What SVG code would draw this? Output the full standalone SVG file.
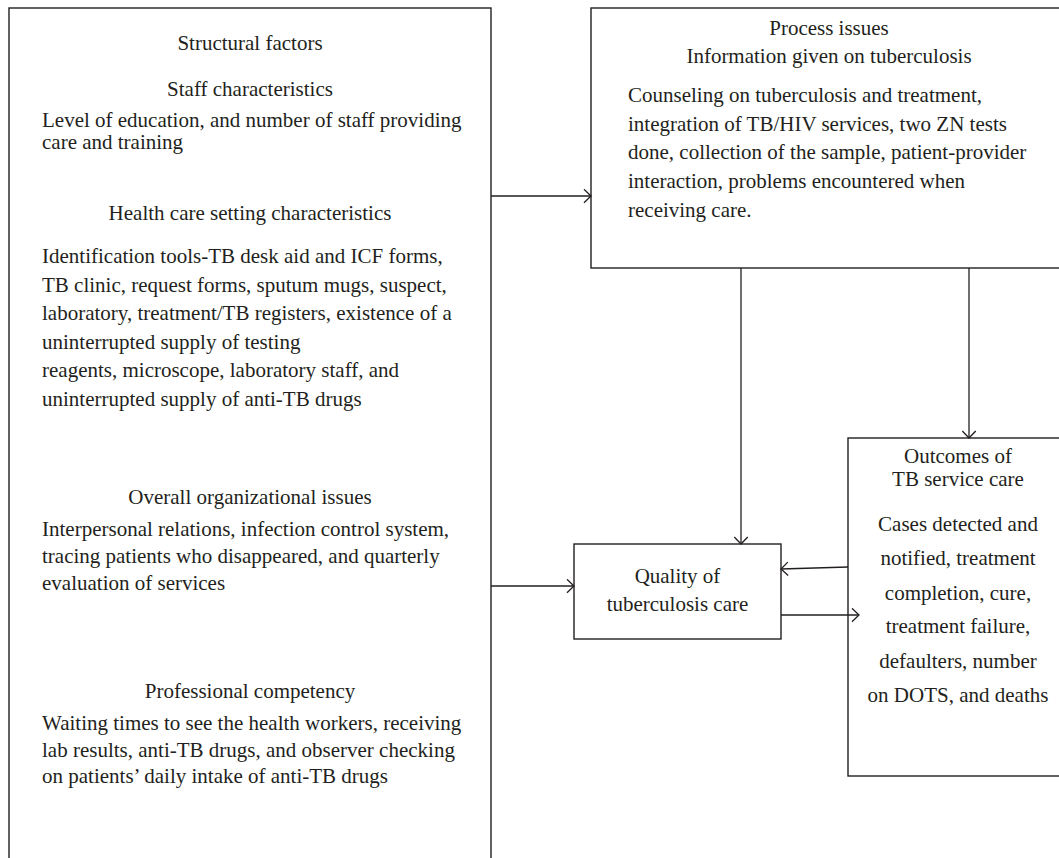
<svg xmlns="http://www.w3.org/2000/svg" width="1059" height="858" viewBox="0 0 1059 858">
<style>
  .box { fill: #ffffff; stroke: #231f20; stroke-width: 1.4; }
  .t { font-family: "Liberation Serif", "Times New Roman", serif; font-size: 21px; fill: #231f20; }
  .c { text-anchor: middle; }
  .conn { fill: none; stroke: #231f20; stroke-width: 1.3; marker-end: url(#arr); }
</style>
<defs>
  <marker id="arr" markerUnits="userSpaceOnUse" markerWidth="12" markerHeight="16" refX="8" refY="7" orient="auto">
    <polyline points="1,0.3 8,7 1,13.7" fill="none" stroke="#231f20" stroke-width="1.3"/>
  </marker>
</defs>
<rect width="1059" height="858" fill="#ffffff"/>

<g id="structural-factors">
  <rect class="box" x="9" y="8" width="482" height="870"/>
  <text class="t c" x="250" y="50">Structural factors</text>
  <text class="t c" x="250" y="96">Staff characteristics</text>
  <text class="t" x="42" y="127">Level of education, and number of staff providing</text>
  <text class="t" x="42" y="149">care and training</text>
  <text class="t c" x="250" y="220">Health care setting characteristics</text>
  <text class="t" x="42" y="263">Identification tools-TB desk aid and ICF forms,</text>
  <text class="t" x="42" y="291.5">TB clinic, request forms, sputum mugs, suspect,</text>
  <text class="t" x="42" y="320">laboratory, treatment/TB registers, existence of a</text>
  <text class="t" x="42" y="348.5">uninterrupted supply of testing</text>
  <text class="t" x="42" y="377">reagents, microscope, laboratory staff, and</text>
  <text class="t" x="42" y="405.5">uninterrupted supply of anti-TB drugs</text>
  <text class="t c" x="250" y="504">Overall organizational issues</text>
  <text class="t" x="42" y="536">Interpersonal relations, infection control system,</text>
  <text class="t" x="42" y="563">tracing patients who disappeared, and quarterly</text>
  <text class="t" x="42" y="590">evaluation of services</text>
  <text class="t c" x="250" y="698">Professional competency</text>
  <text class="t" x="42" y="730">Waiting times to see the health workers, receiving</text>
  <text class="t" x="42" y="757">lab results, anti-TB drugs, and observer checking</text>
  <text class="t" x="42" y="783">on patients’ daily intake of anti-TB drugs</text>
</g>

<g id="process-issues">
  <rect class="box" x="591" y="8" width="490" height="260"/>
  <text class="t c" x="829" y="35">Process issues</text>
  <text class="t c" x="829" y="63">Information given on tuberculosis</text>
  <text class="t" x="628" y="102">Counseling on tuberculosis and treatment,</text>
  <text class="t" x="628" y="131">integration of TB/HIV services, two ZN tests</text>
  <text class="t" x="628" y="159">done, collection of the sample, patient-provider</text>
  <text class="t" x="628" y="188">interaction, problems encountered when</text>
  <text class="t" x="628" y="217">receiving care.</text>
</g>

<g id="quality-of-care">
  <rect class="box" x="574" y="544" width="207" height="95"/>
  <text class="t c" x="677.5" y="583">Quality of</text>
  <text class="t c" x="677.5" y="611">tuberculosis care</text>
</g>

<g id="outcomes">
  <rect class="box" x="848" y="438" width="240" height="338"/>
  <text class="t c" x="958" y="463">Outcomes of</text>
  <text class="t c" x="958" y="486">TB service care</text>
  <text class="t c" x="958" y="531">Cases detected and</text>
  <text class="t c" x="958" y="565">notified, treatment</text>
  <text class="t c" x="958" y="600">completion, cure,</text>
  <text class="t c" x="958" y="633">treatment failure,</text>
  <text class="t c" x="958" y="668">defaulters, number</text>
  <text class="t c" x="958" y="702">on DOTS, and deaths</text>
</g>

<g id="connectors">
  <line class="conn" x1="491" y1="196" x2="591" y2="196"/>
  <line class="conn" x1="741" y1="268" x2="741" y2="544"/>
  <line class="conn" x1="969" y1="268" x2="969" y2="438"/>
  <line class="conn" x1="491" y1="586" x2="574" y2="586"/>
  <line class="conn" x1="848" y1="567" x2="781" y2="569"/>
  <line class="conn" x1="781" y1="615" x2="859" y2="615"/>
</g>
</svg>
